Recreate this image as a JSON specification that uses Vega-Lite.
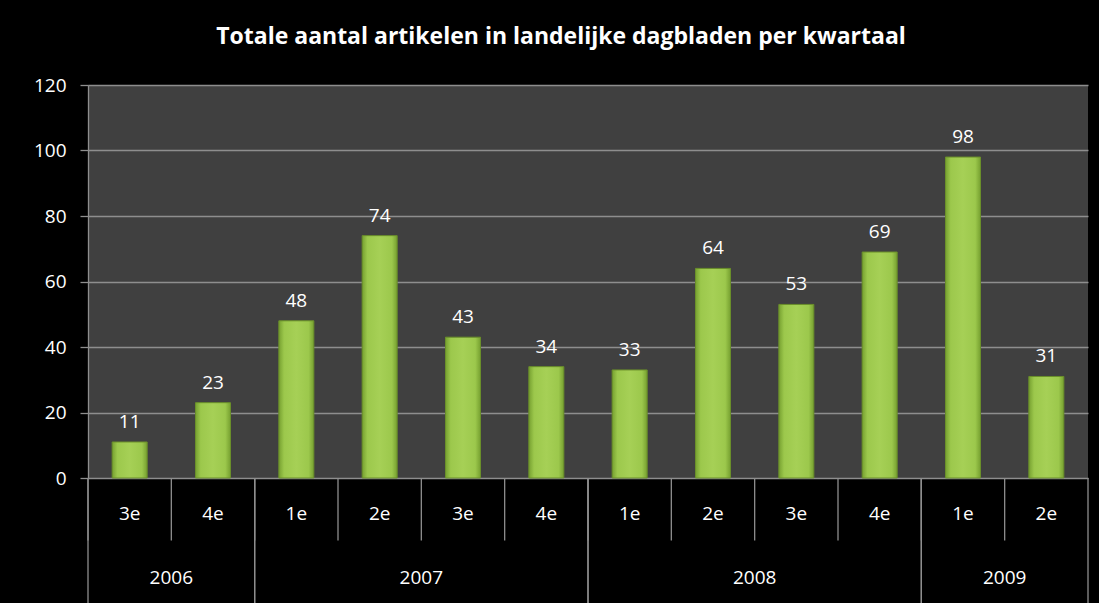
{
  "$schema": "https://vega.github.io/schema/vega-lite/v6.json",
  "background": "black",
  "padding": {"left": 33, "top": 26, "right": 10, "bottom": 0},
  "bounds": "flush",
  "title": {
    "text": "Totale aantal artikelen in landelijke dagbladen per kwartaal",
    "font": "Open Sans",
    "fontSize": 23,
    "fontWeight": "bold",
    "color": "white",
    "anchor": "middle",
    "offset": 27
  },
  "datasets": {
    "bars": [
      {"year": "2006", "q": "3e", "k": "2006 3e", "n": 11},
      {"year": "2006", "q": "4e", "k": "2006 4e", "n": 23},
      {"year": "2007", "q": "1e", "k": "2007 1e", "n": 48},
      {"year": "2007", "q": "2e", "k": "2007 2e", "n": 74},
      {"year": "2007", "q": "3e", "k": "2007 3e", "n": 43},
      {"year": "2007", "q": "4e", "k": "2007 4e", "n": 34},
      {"year": "2008", "q": "1e", "k": "2008 1e", "n": 33},
      {"year": "2008", "q": "2e", "k": "2008 2e", "n": 64},
      {"year": "2008", "q": "3e", "k": "2008 3e", "n": 53},
      {"year": "2008", "q": "4e", "k": "2008 4e", "n": 69},
      {"year": "2009", "q": "1e", "k": "2009 1e", "n": 98},
      {"year": "2009", "q": "2e", "k": "2009 2e", "n": 31}
    ],
    "years": [
      {"year": "2006", "first": "2006 3e", "last": "2006 4e", "mid": "2006 4e"},
      {"year": "2007", "first": "2007 1e", "last": "2007 4e", "mid": "2007 3e"},
      {"year": "2008", "first": "2008 1e", "last": "2008 4e", "mid": "2008 3e"},
      {"year": "2009", "first": "2009 1e", "last": "2009 2e", "mid": "2009 2e"}
    ]
  },
  "spacing": 0,
  "vconcat": [
    {
      "width": 1000,
      "height": 393,
      "data": {"name": "bars"},
      "view": {"fill": "#404040", "stroke": null},
      "encoding": {
        "x": {
          "field": "k", "type": "ordinal", "sort": null,
          "scale": {"domain": ["2006 3e","2006 4e","2007 1e","2007 2e","2007 3e","2007 4e","2008 1e","2008 2e","2008 3e","2008 4e","2009 1e","2009 2e"], "paddingInner": 0, "paddingOuter": 0},
          "axis": null
        },
        "y": {
          "field": "n", "type": "quantitative",
          "scale": {"domain": [0, 120]},
          "axis": {
            "values": [0, 20, 40, 60, 80, 100, 120],
            "title": null,
            "grid": true,
            "gridColor": "#8e8e8e",
            "gridWidth": 1.3,
            "domain": true,
            "domainColor": "#8e8e8e",
            "domainWidth": 1.3,
            "ticks": true,
            "tickSize": 8,
            "tickColor": "#8e8e8e",
            "tickWidth": 1.3,
            "labelPadding": 14,
            "labelFont": "Open Sans",
            "labelFontSize": 19,
            "labelColor": "white"
          }
        }
      },
      "layer": [
        {
          "mark": {
            "type": "bar",
            "width": {"band": 0.42},
            "stroke": "#6a8f2a",
            "strokeWidth": 1,
            "color": {
              "gradient": "linear", "x1": 0, "y1": 0, "x2": 1, "y2": 0,
              "stops": [
                {"offset": 0, "color": "#76a030"},
                {"offset": 0.15, "color": "#9cc84c"},
                {"offset": 0.5, "color": "#a6d056"},
                {"offset": 0.85, "color": "#9cc84c"},
                {"offset": 1, "color": "#76a030"}
              ]
            }
          }
        },
        {
          "mark": {"type": "text", "color": "white", "font": "Open Sans", "fontSize": 19, "baseline": "alphabetic", "dy": -14},
          "encoding": {"text": {"field": "n", "type": "quantitative"}}
        }
      ]
    },
    {
      "width": 1000,
      "height": 125,
      "view": {"stroke": null},
      "layer": [
        {
          "data": {"name": "bars"},
          "mark": {"type": "rule", "color": "#8e8e8e", "strokeWidth": 1.3},
          "encoding": {
            "x": {
              "field": "k", "type": "ordinal", "bandPosition": 0,
              "scale": {"domain": ["2006 3e","2006 4e","2007 1e","2007 2e","2007 3e","2007 4e","2008 1e","2008 2e","2008 3e","2008 4e","2009 1e","2009 2e"], "paddingInner": 0, "paddingOuter": 0},
              "axis": null
            },
            "y": {"datum": 2, "type": "quantitative", "scale": {"domain": [0, 2]}, "axis": null},
            "y2": {"datum": 1}
          }
        },
        {
          "data": {"name": "bars"},
          "mark": {"type": "text", "color": "white", "font": "Open Sans", "fontSize": 19, "baseline": "middle"},
          "encoding": {
            "x": {"field": "k", "type": "ordinal"},
            "y": {"datum": 1.42, "type": "quantitative"},
            "text": {"field": "q", "type": "nominal"}
          }
        },
        {
          "data": {"name": "years"},
          "mark": {"type": "rule", "color": "#8e8e8e", "strokeWidth": 1.3},
          "encoding": {
            "x": {"field": "first", "type": "ordinal", "bandPosition": 0},
            "y": {"datum": 2, "type": "quantitative"},
            "y2": {"datum": 0}
          }
        },
        {
          "data": {"name": "years"},
          "mark": {"type": "rule", "color": "#8e8e8e", "strokeWidth": 1.3},
          "encoding": {
            "x": {"field": "last", "type": "ordinal", "bandPosition": 1},
            "y": {"datum": 2, "type": "quantitative"},
            "y2": {"datum": 0}
          }
        },
        {
          "data": {"name": "years"},
          "mark": {"type": "text", "color": "white", "font": "Open Sans", "fontSize": 19, "baseline": "middle"},
          "encoding": {
            "x": {"field": "mid", "type": "ordinal", "bandPosition": 0},
            "y": {"datum": 0.4, "type": "quantitative"},
            "text": {"field": "year", "type": "nominal"}
          }
        }
      ]
    }
  ]
}
